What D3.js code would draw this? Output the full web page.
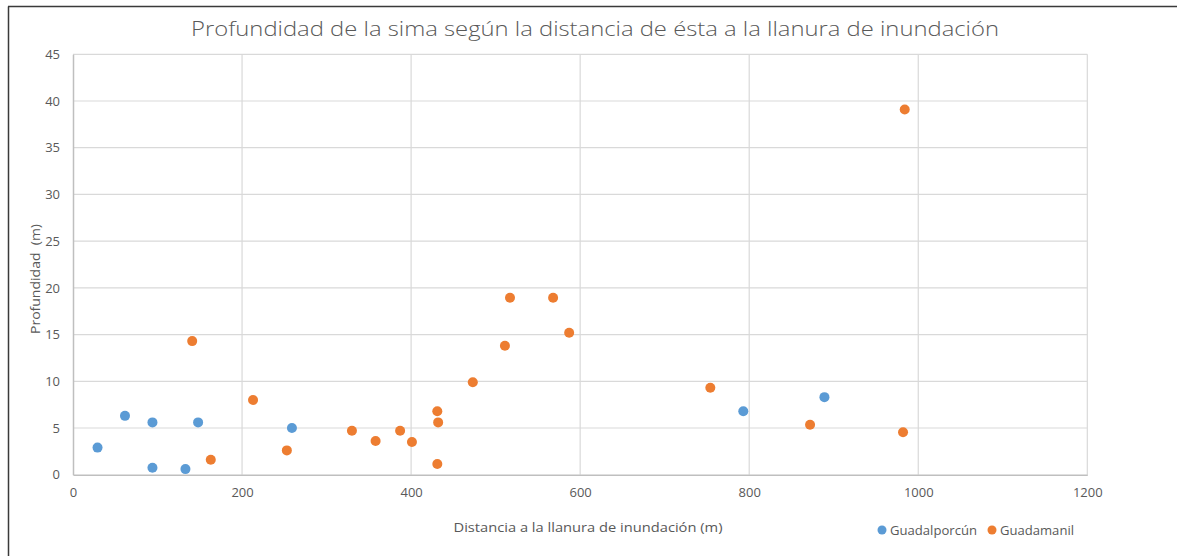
<!DOCTYPE html>
<html>
<head>
<meta charset="utf-8">
<script src="https://cdn.jsdelivr.net/npm/d3@7"></script>
<style>
  html, body { margin: 0; padding: 0; background: #ffffff; }
  svg { display: block; font-family: "Open Sans", "Liberation Sans", sans-serif; }
</style>
</head>
<body>
<svg id="chart" width="1177" height="556"></svg>
<script>
const title = "Profundidad de la sima según la distancia de ésta a la llanura de inundación";
const xTitle = "Distancia a la llanura de inundación (m)";
const yTitle = "Profundidad  (m)";
const seriesNames = ["Guadalporcún", "Guadamanil"];
const seriesColors = ["#5B9BD5", "#ED7D31"];

const xTicks = [0, 200, 400, 600, 800, 1000, 1200];
const yTicks = [0, 5, 10, 15, 20, 25, 30, 35, 40, 45];

const guadalporcunX = [29, 61.5, 94, 94, 133, 148, 259, 793, 889];
const guadalporcunY = [2.9, 6.3, 5.6, 0.75, 0.6, 5.6, 5.0, 6.8, 8.3];

const guadamanilX = [141, 163, 213, 253, 330, 358, 387, 401, 431, 432, 431, 473, 511, 517, 568, 587, 754, 872, 982, 984];
const guadamanilY = [14.3, 1.6, 8.0, 2.6, 4.7, 3.6, 4.7, 3.5, 6.8, 5.6, 1.15, 9.9, 13.8, 18.95, 18.95, 15.2, 9.3, 5.35, 4.55, 39.1];

const series = [
  { name: seriesNames[0], color: seriesColors[0], pts: guadalporcunX.map((x, i) => ({ x, y: guadalporcunY[i] })) },
  { name: seriesNames[1], color: seriesColors[1], pts: guadamanilX.map((x, i) => ({ x, y: guadamanilY[i] })) }
];

const svg = d3.select("#chart");
const pLeft = 73, pRight = 1087.3, pTop = 54.3, pBottom = 474.7;

const xS = d3.scaleLinear().domain([0, 1200]).range([pLeft, pRight]);
const yS = d3.scaleLinear().domain([0, 45]).range([pBottom, pTop]);

// frame (visible left and top edges)
svg.append("line").attr("x1", 8.5).attr("x2", 8.5).attr("y1", 6.5).attr("y2", 556)
  .attr("stroke", "#3a3a3a").attr("stroke-width", 1.5);
svg.append("line").attr("x1", 8).attr("x2", 1177).attr("y1", 6.5).attr("y2", 6.5)
  .attr("stroke", "#3a3a3a").attr("stroke-width", 1.5);

// gridlines
const grid = svg.append("g");
grid.selectAll("line.h").data(yTicks.filter(d => d !== 0)).enter().append("line")
  .attr("x1", pLeft).attr("x2", pRight)
  .attr("y1", d => yS(d)).attr("y2", d => yS(d))
  .attr("stroke", "#d9d9d9").attr("stroke-width", 1.2);
grid.selectAll("line.v").data(xTicks.filter(d => d !== 0)).enter().append("line")
  .attr("y1", pTop).attr("y2", pBottom)
  .attr("x1", d => xS(d)).attr("x2", d => xS(d))
  .attr("stroke", "#d9d9d9").attr("stroke-width", 1.2);

// axes
const fmt = d3.format("d");
const xAxis = d3.axisBottom(xS).tickValues(xTicks).tickFormat(fmt).tickSize(0).tickPadding(13);
const gx = svg.append("g").attr("transform", `translate(0,${pBottom})`).call(xAxis);
gx.select(".domain").attr("stroke", "#bfbfbf").attr("stroke-width", 1.5);
gx.selectAll("text").attr("fill", "#595959").attr("font-size", 13)
  .attr("font-family", "'Open Sans', 'Liberation Sans', sans-serif");

const yAxis = d3.axisLeft(yS).tickValues(yTicks).tickFormat(fmt).tickSize(0).tickPadding(13);
const gy = svg.append("g").attr("transform", `translate(${pLeft},0)`).call(yAxis);
gy.select(".domain").attr("stroke", "#bfbfbf").attr("stroke-width", 1.5);
gy.selectAll("text").attr("fill", "#595959").attr("font-size", 13)
  .attr("font-family", "'Open Sans', 'Liberation Sans', sans-serif");

// points
series.forEach(s => {
  svg.append("g").selectAll("circle").data(s.pts).enter().append("circle")
    .attr("cx", d => xS(d.x)).attr("cy", d => yS(d.y)).attr("r", 5)
    .attr("fill", s.color);
});

// title
svg.append("text").attr("x", 595).attr("y", 36).attr("text-anchor", "middle")
  .attr("font-size", 21).attr("font-weight", 300).attr("fill", "#595959")
  .attr("textLength", 808).attr("lengthAdjust", "spacingAndGlyphs")
  .text(title);

// axis titles
svg.append("text").attr("x", 588).attr("y", 532).attr("text-anchor", "middle")
  .attr("font-size", 13.5).attr("fill", "#595959")
  .attr("textLength", 269).attr("lengthAdjust", "spacingAndGlyphs")
  .text(xTitle);
svg.append("text").attr("transform", "translate(40,279) rotate(-90)")
  .attr("text-anchor", "middle").attr("font-size", 13.5).attr("fill", "#595959")
  .style("white-space", "pre")
  .attr("textLength", 110).attr("lengthAdjust", "spacingAndGlyphs")
  .text(yTitle);

// legend
const legendItems = [
  { name: seriesNames[0], color: seriesColors[0], cx: 882, tx: 890, w: 87 },
  { name: seriesNames[1], color: seriesColors[1], cx: 992, tx: 1000, w: 74 }
];
const lg = svg.append("g");
legendItems.forEach(it => {
  lg.append("circle").attr("cx", it.cx).attr("cy", 530).attr("r", 4.5).attr("fill", it.color);
  lg.append("text").attr("x", it.tx).attr("y", 534.5).attr("font-size", 12.5)
    .attr("fill", "#595959").attr("textLength", it.w).attr("lengthAdjust", "spacingAndGlyphs")
    .text(it.name);
});
</script>
</body>
</html>
